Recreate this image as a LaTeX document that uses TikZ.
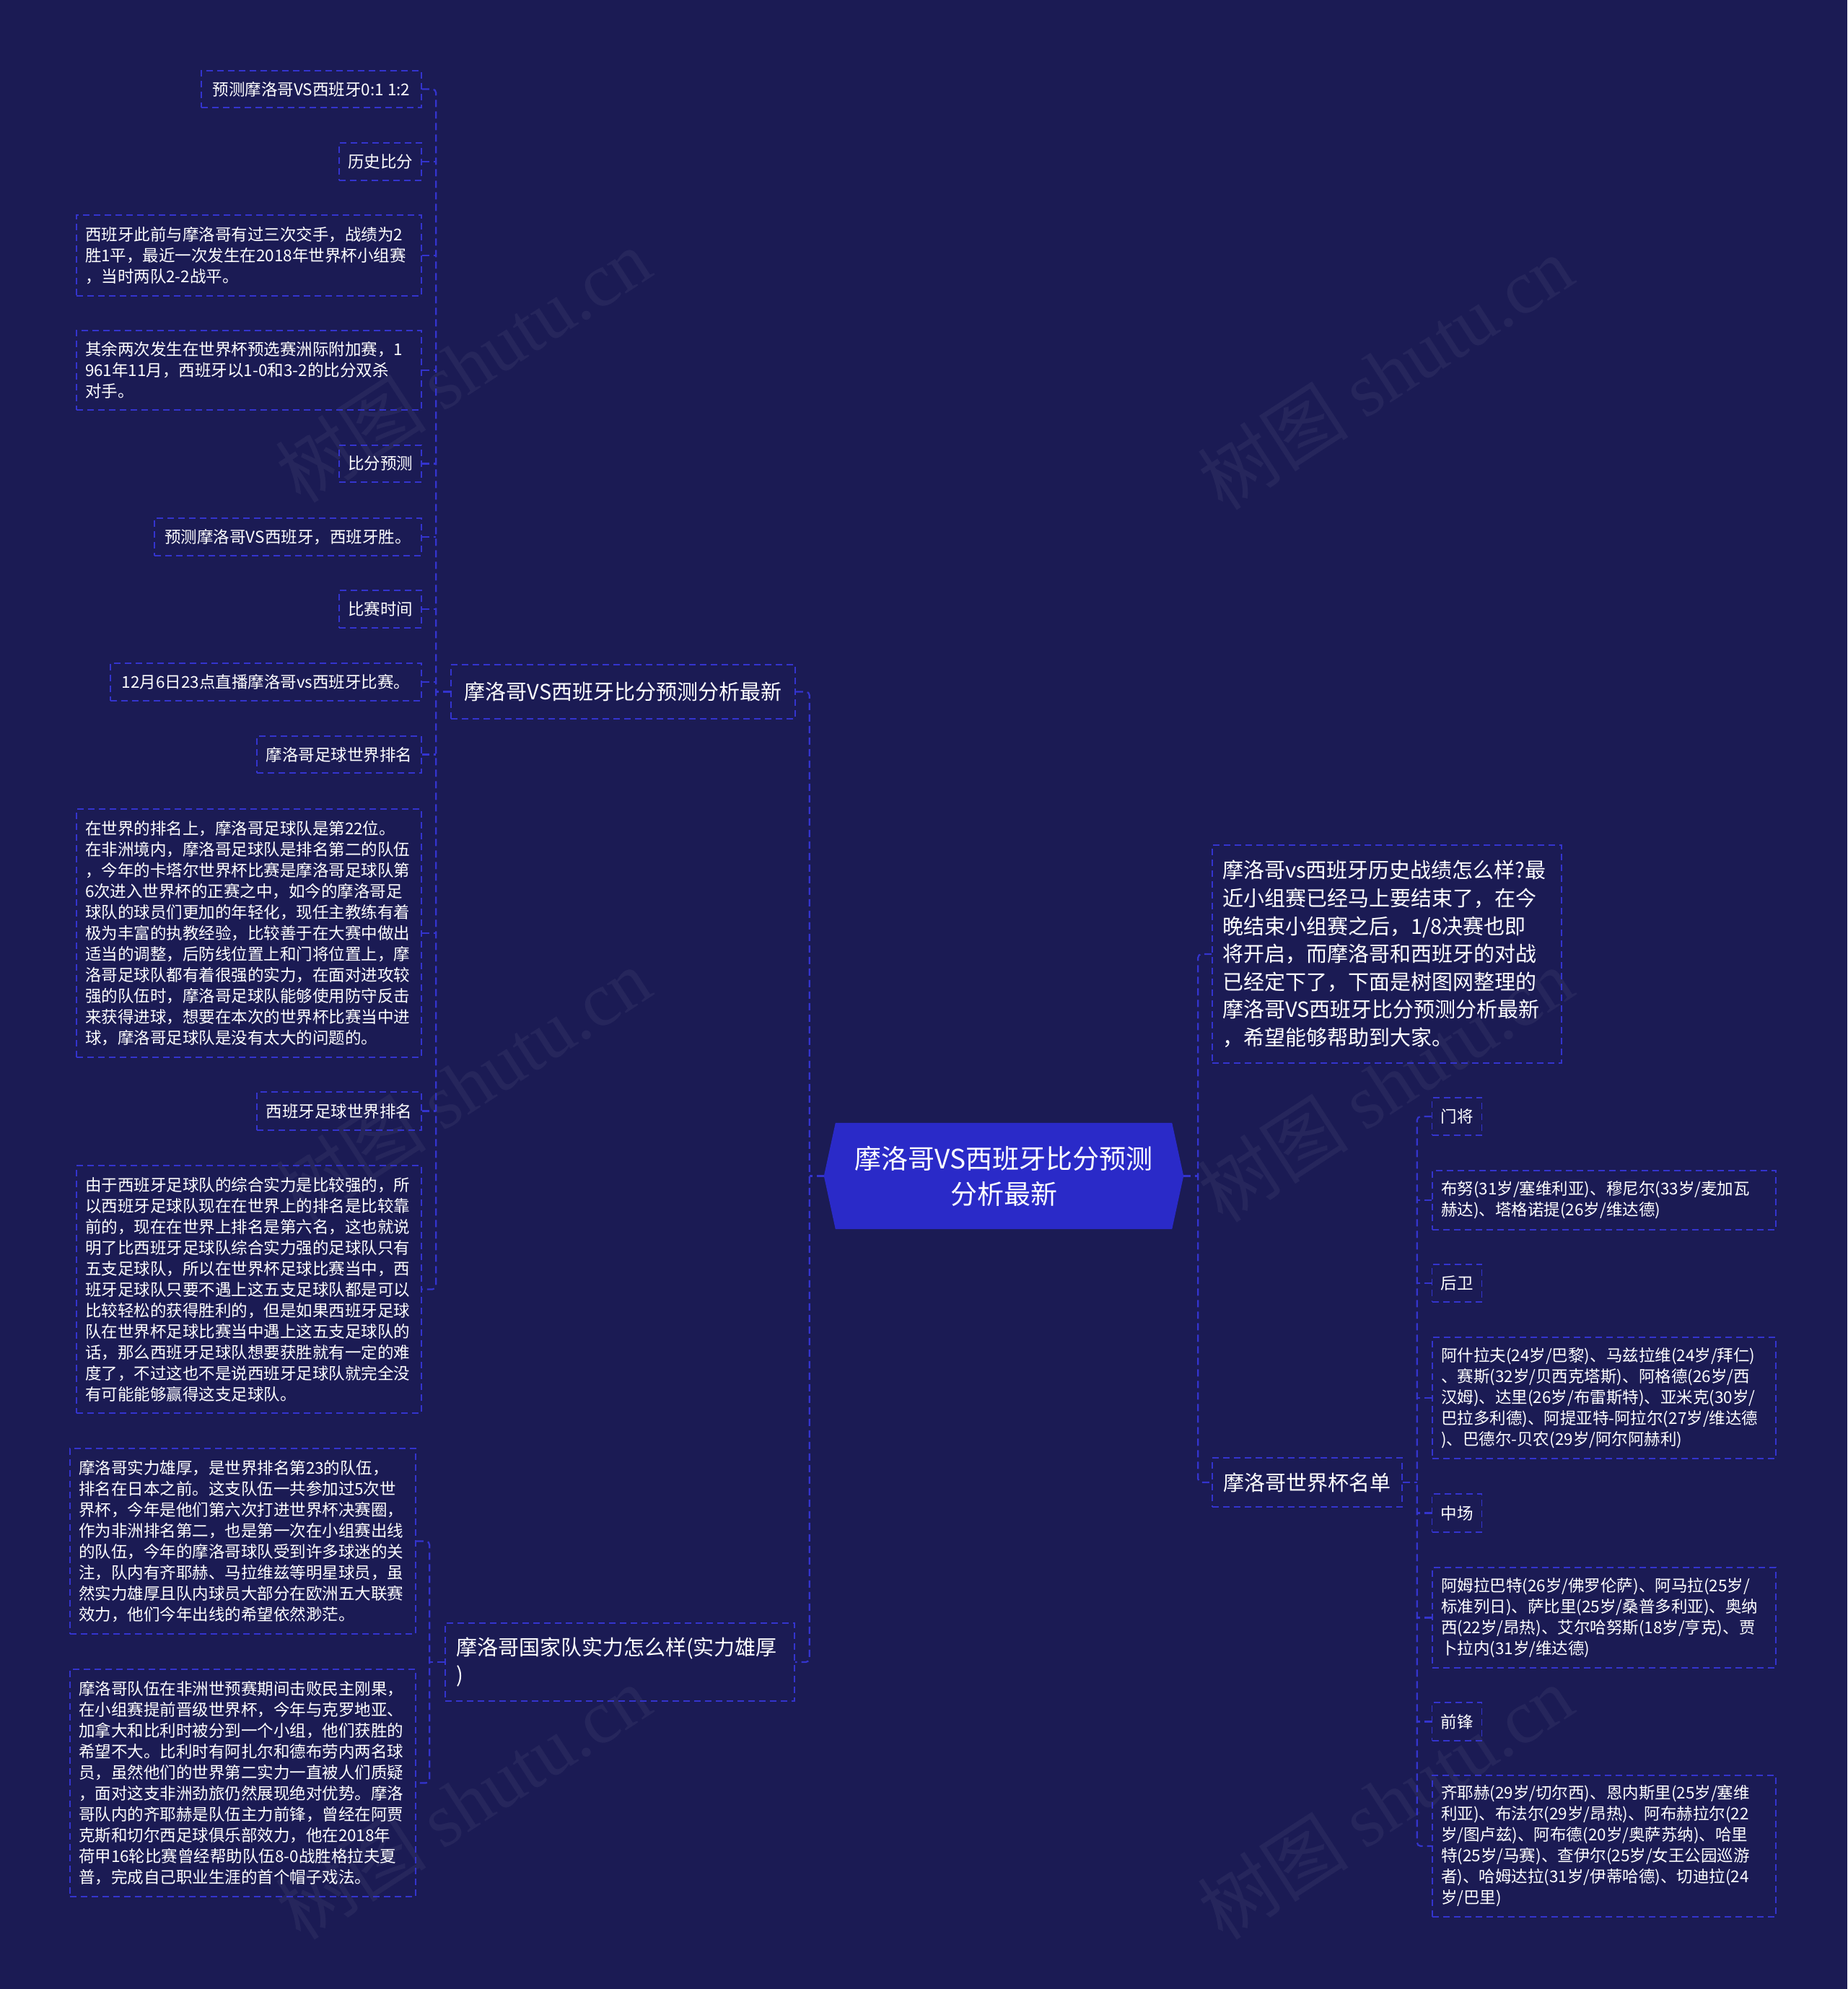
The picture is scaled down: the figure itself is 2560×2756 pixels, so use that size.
\documentclass[tikz,border=0pt]{standalone}
\usepackage{fontspec}
\setmainfont{Noto Sans CJK SC}
\newfontfamily\wmserif{Liberation Serif}
\usetikzlibrary{backgrounds,calc}
\definecolor{bgc}{RGB}{27,27,84}
\definecolor{lineblue}{RGB}{52,52,206}
\definecolor{rootfill}{RGB}{42,42,200}
\newcommand\fsleaf{\fontsize{22.5}{29}\selectfont}
\newcommand\fsmid{\fontsize{29}{38.6}\selectfont}
\newcommand\fsroot{\fontsize{37}{49}\selectfont}
\newcommand\fswm{\fontsize{105}{105}\selectfont}
\begin{document}
\begin{tikzpicture}[x=1pt,y=-1pt,
  lbox/.style={draw=lineblue, line width=1.6, dash pattern=on 9pt off 6pt, text=white, inner xsep=12, inner ysep=0, align=left},
  leafnode/.style={lbox, font=\fsleaf},
  midnode/.style={lbox, font=\fsmid, inner xsep=15},
  conn/.style={draw=lineblue, line width=2.2, dash pattern=on 10pt off 6pt, rounded corners=5},
  wmark/.style={text=white, opacity=0.05, rotate=33, font=\fswm}
]
\useasboundingbox (0,0) rectangle (2560,2756);
\begin{scope}[on background layer]
\fill[bgc] (0,0) rectangle (2560,2756);
\node[wmark] (wm1) at (642,506) {树图 {\wmserif shutu.cn}};
\node[wmark] (wm2) at (1920,516) {树图 {\wmserif shutu.cn}};
\node[wmark] (wm3) at (642,1503) {树图 {\wmserif shutu.cn}};
\node[wmark] (wm4) at (1920,1503) {树图 {\wmserif shutu.cn}};
\node[wmark] (wm5) at (642,2497) {树图 {\wmserif shutu.cn}};
\node[wmark] (wm6) at (1920,2497) {树图 {\wmserif shutu.cn}};
\end{scope}

% root
\node[rectangle, minimum width=466, minimum height=147, text=white, font=\fsroot, align=center, inner sep=0] (root) at (1391,1629.5) {摩洛哥VS西班牙比分预测\\分析最新};
\coordinate (rootL) at ($(root.west)+(-16,0)$);
\coordinate (rootR) at ($(root.east)+(16,0)$);
\begin{scope}[on background layer]
\fill[rootfill] (root.north west) -- (root.north east) -- (rootR) -- (root.south east) -- (root.south west) -- (rootL) -- cycle;
\end{scope}

% branches
\node[midnode, minimum width=477, minimum height=75] (b1) at (863.5,958.5) {摩洛哥VS西班牙比分预测分析最新};
\node[midnode, text width=454, minimum height=108] (b2) at (859,2303) {摩洛哥国家队实力怎么样(实力雄厚\\)};
\node[midnode, inner xsep=14, text width=456, minimum height=302] (intro) at (1922,1322) {摩洛哥vs西班牙历史战绩怎么样?最\\近小组赛已经马上要结束了，在今\\晚结束小组赛之后，1/8决赛也即\\将开启，而摩洛哥和西班牙的对战\\已经定下了，下面是树图网整理的\\摩洛哥VS西班牙比分预测分析最新\\，希望能够帮助到大家。};
\node[midnode, minimum width=263, minimum height=68] (b3) at (1811.5,2054) {摩洛哥世界杯名单};

% left leaves of b1
\node[leafnode, minimum width=305, minimum height=51] (l1) at (431.5,123.5) {预测摩洛哥VS西班牙0:1 1:2};
\node[leafnode, minimum width=114, minimum height=52] (l2) at (527,224) {历史比分};
\node[leafnode, text width=454, minimum height=112] (l3) at (345,354) {西班牙此前与摩洛哥有过三次交手，战绩为2\\胜1平，最近一次发生在2018年世界杯小组赛\\，当时两队2-2战平。};
\node[leafnode, text width=454, minimum height=110] (l4) at (345,513) {其余两次发生在世界杯预选赛洲际附加赛，1\\961年11月，西班牙以1-0和3-2的比分双杀\\对手。};
\node[leafnode, minimum width=114, minimum height=51] (l5) at (527,642.5) {比分预测};
\node[leafnode, minimum width=370, minimum height=52] (l6) at (399,744) {预测摩洛哥VS西班牙，西班牙胜。};
\node[leafnode, minimum width=114, minimum height=52] (l7) at (527,844) {比赛时间};
\node[leafnode, minimum width=431, minimum height=52] (l8) at (368.5,945) {12月6日23点直播摩洛哥vs西班牙比赛。};
\node[leafnode, minimum width=228, minimum height=51] (l9) at (470,1045.5) {摩洛哥足球世界排名};
\node[leafnode, text width=454, minimum height=344] (l10) at (345,1293) {在世界的排名上，摩洛哥足球队是第22位。\\在非洲境内，摩洛哥足球队是排名第二的队伍\\，今年的卡塔尔世界杯比赛是摩洛哥足球队第\\6次进入世界杯的正赛之中，如今的摩洛哥足\\球队的球员们更加的年轻化，现任主教练有着\\极为丰富的执教经验，比较善于在大赛中做出\\适当的调整，后防线位置上和门将位置上，摩\\洛哥足球队都有着很强的实力，在面对进攻较\\强的队伍时，摩洛哥足球队能够使用防守反击\\来获得进球，想要在本次的世界杯比赛当中进\\球，摩洛哥足球队是没有太大的问题的。};
\node[leafnode, minimum width=228, minimum height=53] (l11) at (470,1539.5) {西班牙足球世界排名};
\node[leafnode, text width=454, minimum height=343] (l12) at (345,1786.5) {由于西班牙足球队的综合实力是比较强的，所\\以西班牙足球队现在在世界上的排名是比较靠\\前的，现在在世界上排名是第六名，这也就说\\明了比西班牙足球队综合实力强的足球队只有\\五支足球队，所以在世界杯足球比赛当中，西\\班牙足球队只要不遇上这五支足球队都是可以\\比较轻松的获得胜利的，但是如果西班牙足球\\队在世界杯足球比赛当中遇上这五支足球队的\\话，那么西班牙足球队想要获胜就有一定的难\\度了，不过这也不是说西班牙足球队就完全没\\有可能能够赢得这支足球队。};

% left leaves of b2
\node[leafnode, text width=455, minimum height=257] (l13) at (336.5,2135.5) {摩洛哥实力雄厚，是世界排名第23的队伍，\\排名在日本之前。这支队伍一共参加过5次世\\界杯，今年是他们第六次打进世界杯决赛圈，\\作为非洲排名第二，也是第一次在小组赛出线\\的队伍，今年的摩洛哥球队受到许多球迷的关\\注，队内有齐耶赫、马拉维兹等明星球员，虽\\然实力雄厚且队内球员大部分在欧洲五大联赛\\效力，他们今年出线的希望依然渺茫。};
\node[leafnode, text width=455, minimum height=315] (l14) at (336.5,2470.5) {摩洛哥队伍在非洲世预赛期间击败民主刚果，\\在小组赛提前晋级世界杯，今年与克罗地亚、\\加拿大和比利时被分到一个小组，他们获胜的\\希望不大。比利时有阿扎尔和德布劳内两名球\\员，虽然他们的世界第二实力一直被人们质疑\\，面对这支非洲劲旅仍然展现绝对优势。摩洛\\哥队内的齐耶赫是队伍主力前锋，曾经在阿贾\\克斯和切尔西足球俱乐部效力，他在2018年\\荷甲16轮比赛曾经帮助队伍8-0战胜格拉夫夏\\普，完成自己职业生涯的首个帽子戏法。};

% right leaves of b3
\node[leafnode, minimum width=68, minimum height=52] (r1) at (2019,1547) {门将};
\node[leafnode, text width=452, minimum height=82] (r2) at (2223,1663) {布努(31岁/塞维利亚)、穆尼尔(33岁/麦加瓦\\赫达)、塔格诺提(26岁/维达德)};
\node[leafnode, minimum width=68, minimum height=52] (r3) at (2019,1778) {后卫};
\node[leafnode, text width=452, minimum height=168] (r4) at (2223,1937) {阿什拉夫(24岁/巴黎)、马兹拉维(24岁/拜仁)\\、赛斯(32岁/贝西克塔斯)、阿格德(26岁/西\\汉姆)、达里(26岁/布雷斯特)、亚米克(30岁/\\巴拉多利德)、阿提亚特-阿拉尔(27岁/维达德\\)、巴德尔-贝农(29岁/阿尔阿赫利)};
\node[leafnode, minimum width=68, minimum height=53] (r5) at (2019,2096.5) {中场};
\node[leafnode, text width=452, minimum height=139] (r6) at (2223,2241.5) {阿姆拉巴特(26岁/佛罗伦萨)、阿马拉(25岁/\\标准列日)、萨比里(25岁/桑普多利亚)、奥纳\\西(22岁/昂热)、艾尔哈努斯(18岁/亨克)、贾\\卜拉内(31岁/维达德)};
\node[leafnode, minimum width=68, minimum height=53] (r7) at (2019,2385.5) {前锋};
\node[leafnode, text width=452, minimum height=196] (r8) at (2223,2558) {齐耶赫(29岁/切尔西)、恩内斯里(25岁/塞维\\利亚)、布法尔(29岁/昂热)、阿布赫拉尔(22\\岁/图卢兹)、阿布德(20岁/奥萨苏纳)、哈里\\特(25岁/马赛)、查伊尔(25岁/女王公园巡游\\者)、哈姆达拉(31岁/伊蒂哈德)、切迪拉(24\\岁/巴里)};

% connectors
\coordinate (t0) at ($(rootL)+(-20,0)$);
\coordinate (t3) at ($(rootR)+(20,0)$);
\coordinate (t1) at ($(b1.west)+(-20,0)$);
\coordinate (t2) at ($(b2.west)+(-21,0)$);
\coordinate (t4) at ($(b3.east)+(20,0)$);

\draw[conn] (b1.east) -| (t0) |- (b2.east);
\draw[conn] (rootL) -- (t0);
\draw[conn] (intro.west) -| (t3) |- (b3.west);
\draw[conn] (rootR) -- (t3);

\draw[conn] (l1.east) -| (t1) |- (l12.east);
\draw[conn] (b1.west) -- (t1);
\foreach \k in {2,...,11} {\draw[conn] (l\k.east) -- (l\k.east -| t1);}

\draw[conn] (l13.east) -| (t2) |- (l14.east);
\draw[conn] (b2.west) -- (t2);

\draw[conn] (r1.west) -| (t4) |- (r8.west);
\draw[conn] (b3.east) -- (t4);
\foreach \k in {2,...,7} {\draw[conn] (r\k.west) -- (r\k.west -| t4);}
\end{tikzpicture}
\end{document}
